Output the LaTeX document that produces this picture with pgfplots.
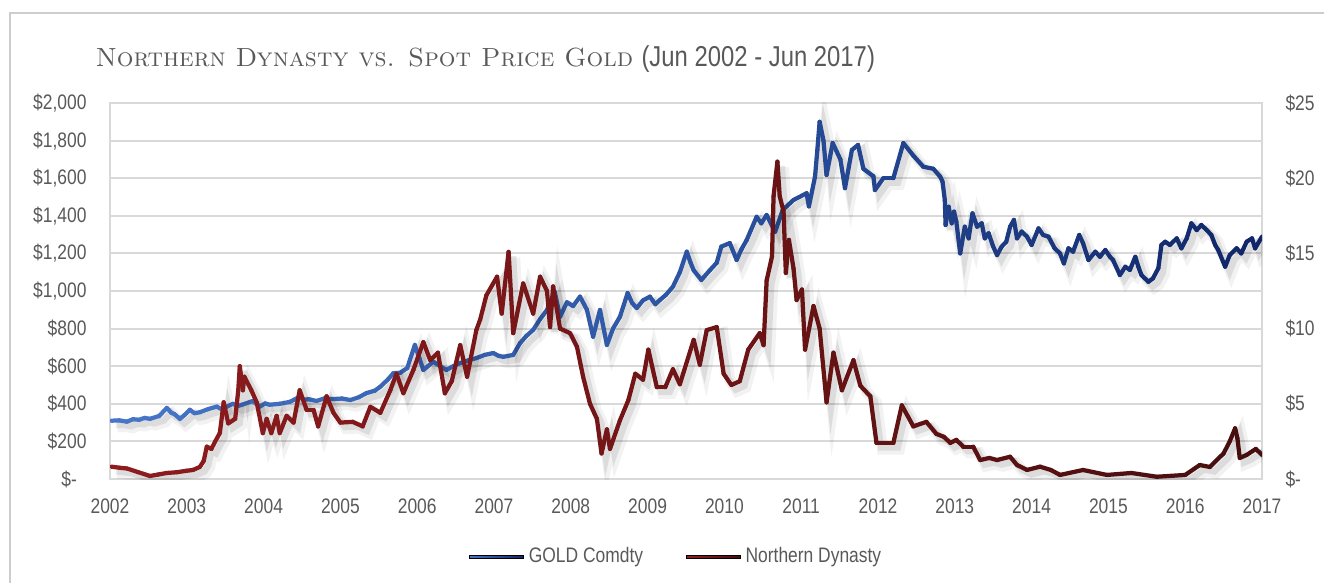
\documentclass[border=0pt]{standalone}
\usepackage{fontspec}
\usepackage{pgfplots}
\pgfplotsset{compat=1.18}
\usepackage{pgfplotstable}
\newfontfamily\narrow[FakeStretch=0.83]{Liberation Sans}
\definecolor{txt}{RGB}{89,89,89}
\definecolor{gridc}{RGB}{217,217,217}
\definecolor{framec}{RGB}{205,205,205}
\definecolor{goldA}{RGB}{72,118,200}
\definecolor{goldB}{RGB}{16,38,104}
\definecolor{ndA}{RGB}{150,30,32}
\definecolor{ndB}{RGB}{70,14,14}
\pgfplotsset{
  colormap={goldmap}{rgb255=(72,118,200) rgb255=(44,84,162) rgb255=(16,38,104)},
  colormap={ndmap}{rgb255=(142,28,30) rgb255=(112,20,22) rgb255=(70,14,14)},
}

% gold spot price, USD/oz (left axis)
\pgfplotstableread{
year price
2002.02 310
2002.12 312
2002.22 305
2002.30 318
2002.38 315
2002.45 325
2002.52 320
2002.64 335
2002.74 378
2002.80 352
2002.84 345
2002.91 320
2002.97 340
2003.04 368
2003.10 350
2003.17 355
2003.28 372
2003.39 385
2003.45 372
2003.50 380
2003.60 400
2003.66 388
2003.72 395
2003.86 415
2003.95 385
2004.02 402
2004.08 395
2004.21 400
2004.34 410
2004.40 422
2004.47 438
2004.53 420
2004.58 425
2004.69 415
2004.80 430
2004.90 425
2005.02 428
2005.13 420
2005.24 435
2005.34 457
2005.45 470
2005.52 491
2005.62 530
2005.69 563
2005.78 565
2005.87 590
2005.97 713
2006.03 640
2006.08 580
2006.14 600
2006.21 624
2006.30 600
2006.38 580
2006.47 600
2006.56 617
2006.66 630
2006.77 643
2006.88 660
2006.99 670
2007.06 655
2007.12 650
2007.25 660
2007.34 723
2007.42 760
2007.51 793
2007.60 850
2007.69 899
2007.79 996
2007.86 863
2007.95 940
2008.03 920
2008.12 970
2008.21 900
2008.29 757
2008.38 899
2008.47 713
2008.55 800
2008.64 863
2008.74 989
2008.80 935
2008.86 910
2008.94 950
2009.03 970
2009.10 930
2009.16 952
2009.24 980
2009.33 1023
2009.42 1100
2009.51 1209
2009.56 1150
2009.60 1110
2009.70 1059
2009.81 1110
2009.90 1150
2009.96 1236
2010.07 1255
2010.16 1165
2010.22 1220
2010.29 1271
2010.42 1395
2010.48 1360
2010.55 1404
2010.66 1315
2010.76 1431
2010.90 1484
2011.07 1520
2011.10 1450
2011.18 1608
2011.21 1750
2011.24 1900
2011.29 1800
2011.33 1617
2011.41 1787
2011.51 1700
2011.57 1547
2011.66 1750
2011.74 1777
2011.81 1650
2011.94 1610
2011.96 1537
2012.07 1600
2012.20 1600
2012.33 1787
2012.46 1720
2012.59 1661
2012.72 1650
2012.81 1608
2012.84 1582
2012.87 1484
2012.88 1351
2012.92 1448
2012.96 1360
2012.99 1422
2013.02 1369
2013.07 1200
2013.13 1342
2013.18 1280
2013.23 1413
2013.29 1342
2013.35 1360
2013.39 1280
2013.44 1307
2013.50 1236
2013.55 1191
2013.61 1236
2013.67 1262
2013.72 1342
2013.77 1378
2013.81 1280
2013.87 1316
2013.94 1289
2014.00 1245
2014.09 1333
2014.15 1298
2014.22 1289
2014.30 1227
2014.37 1200
2014.42 1147
2014.48 1227
2014.54 1209
2014.62 1298
2014.67 1254
2014.74 1165
2014.83 1209
2014.89 1182
2014.96 1218
2015.02 1182
2015.06 1165
2015.15 1085
2015.22 1129
2015.28 1112
2015.35 1182
2015.39 1129
2015.43 1085
2015.52 1049
2015.58 1067
2015.65 1121
2015.69 1245
2015.74 1262
2015.80 1245
2015.89 1280
2015.95 1227
2016.02 1280
2016.08 1360
2016.15 1324
2016.21 1351
2016.28 1324
2016.34 1298
2016.39 1245
2016.43 1218
2016.52 1129
2016.58 1191
2016.67 1227
2016.73 1200
2016.80 1262
2016.87 1280
2016.91 1227
2017.00 1289
}\gold

% Northern Dynasty share price, USD (right axis)
\pgfplotstableread{
year nd
2002.02 0.82
2002.12 0.75
2002.22 0.70
2002.37 0.45
2002.52 0.20
2002.63 0.30
2002.74 0.40
2002.87 0.45
2003.00 0.55
2003.08 0.60
2003.17 0.80
2003.22 1.2
2003.26 2.15
2003.32 2.0
2003.37 2.5
2003.43 3.05
2003.48 5.1
2003.54 3.7
2003.63 4.0
2003.67 5.9
2003.69 7.5
2003.73 5.9
2003.75 6.8
2003.84 5.9
2003.91 5.1
2003.99 3.05
2004.04 4.0
2004.10 3.05
2004.17 4.2
2004.21 3.05
2004.30 4.2
2004.39 3.75
2004.47 5.9
2004.56 4.6
2004.65 4.6
2004.71 3.5
2004.82 5.5
2004.91 4.4
2005.00 3.75
2005.16 3.8
2005.29 3.5
2005.39 4.8
2005.52 4.4
2005.65 5.9
2005.73 7.0
2005.82 5.7
2005.95 7.25
2006.08 9.1
2006.17 7.9
2006.27 8.4
2006.36 5.7
2006.45 6.5
2006.56 8.9
2006.65 6.8
2006.77 9.9
2006.82 10.6
2006.90 12.2
2007.04 13.45
2007.10 11.0
2007.19 15.1
2007.25 9.7
2007.38 13.0
2007.51 11.0
2007.60 13.45
2007.69 12.5
2007.73 10.1
2007.77 12.8
2007.86 10.0
2007.99 9.7
2008.08 8.8
2008.16 6.8
2008.25 5.0
2008.34 4.0
2008.40 1.7
2008.47 3.3
2008.51 2.0
2008.64 3.9
2008.75 5.25
2008.84 7.0
2008.94 6.6
2009.01 8.6
2009.12 6.1
2009.23 6.1
2009.33 7.3
2009.42 6.3
2009.60 9.25
2009.68 7.6
2009.77 9.9
2009.90 10.1
2009.99 7.0
2010.09 6.25
2010.20 6.5
2010.31 8.6
2010.46 9.7
2010.51 8.9
2010.55 13.2
2010.62 14.8
2010.64 18.8
2010.69 21.1
2010.72 18.8
2010.77 17.8
2010.80 13.7
2010.84 15.9
2010.90 14.0
2010.94 11.9
2011.01 12.6
2011.05 8.6
2011.16 11.5
2011.24 10.0
2011.33 5.1
2011.42 8.4
2011.53 5.9
2011.68 7.9
2011.77 6.2
2011.90 5.5
2011.98 2.4
2012.20 2.4
2012.31 4.9
2012.46 3.5
2012.63 3.8
2012.76 3.0
2012.86 2.8
2012.94 2.4
2013.02 2.6
2013.11 2.15
2013.24 2.15
2013.33 1.26
2013.45 1.4
2013.55 1.26
2013.72 1.48
2013.81 0.93
2013.94 0.6
2014.11 0.82
2014.25 0.6
2014.37 0.27
2014.67 0.6
2014.98 0.27
2015.30 0.4
2015.63 0.15
2016.00 0.27
2016.19 0.93
2016.32 0.8
2016.50 1.7
2016.58 2.5
2016.65 3.37
2016.68 2.7
2016.71 1.4
2016.80 1.6
2016.92 2.0
2017.00 1.6
}\nd

\begin{document}
\begin{tikzpicture}
\useasboundingbox (0,0) rectangle (529.6pt,232.8pt);
% outer chart frame
\draw[framec, line width=0.8pt] (4pt,-5pt) -- (4pt,227.6pt) -- (540pt,227.6pt);
% title
\node[anchor=base west, inner sep=0pt, text=txt] at (38pt,206pt)
  {{\fontsize{10.5}{12}\selectfont\scshape Northern Dynasty vs. Spot Price Gold}
   {\narrow\fontsize{11.5}{13}\selectfont(Jun 2002 - Jun 2017)}};

\begin{axis}[
  at={(44pt,41.2pt)}, anchor=south west,
  scale only axis, width=460.8pt, height=150.4pt,
  xmin=2002, xmax=2017, ymin=0, ymax=2000,
  xtick={2002,2003,...,2017},
  xticklabels={2002,2003,2004,2005,2006,2007,2008,2009,2010,2011,2012,2013,2014,2015,2016,2017},
  ytick={0,200,...,2000},
  yticklabels={\$-\hphantom{0},\$200,\$400,\$600,\$800,\$1{,}000,\$1{,}200,\$1{,}400,\$1{,}600,\$1{,}800,\$2{,}000},
  ymajorgrids, major grid style={gridc, line width=0.8pt},
  axis line style={gridc, line width=0.8pt},
  tick style={draw=none},
  ticklabel style={font=\narrow\fontsize{8.4}{10}\selectfont, text=txt},
  yticklabel style={anchor=east, inner sep=0pt, xshift=-9.2pt},
  xticklabel style={anchor=north, inner sep=0pt, yshift=-7.6pt},
]
\addplot[black, opacity=0.05, line width=4.5pt, xshift=2.4pt, yshift=-2.4pt, forget plot] table[x=year,y=price]{\gold};
\addplot[black, opacity=0.09, line width=2.6pt, xshift=1.8pt, yshift=-1.8pt, forget plot] table[x=year,y=price]{\gold};
\addplot[mesh, point meta=x, colormap name=goldmap, line width=1.7pt, line cap=round, line join=round, forget plot] table[x=year,y=price]{\gold};
\end{axis}

\begin{axis}[
  at={(44pt,41.2pt)}, anchor=south west,
  scale only axis, width=460.8pt, height=150.4pt,
  xmin=2002, xmax=2017, ymin=0, ymax=25,
  axis x line=none, axis y line*=right,
  y axis line style={draw=none},
  ytick={0,5,...,25},
  yticklabels={\$-,\$5,\$10,\$15,\$20,\$25},
  tick style={draw=none},
  ticklabel style={font=\narrow\fontsize{8.4}{10}\selectfont, text=txt},
  yticklabel style={anchor=west, inner sep=0pt, xshift=9.2pt},
  legend columns=2,
  legend style={at={(0.5,0)}, anchor=center, yshift=-31.2pt, xshift=-3.4pt,
    draw=none, fill=none, font=\narrow\fontsize{8.4}{10}\selectfont, text=txt,
    /tikz/every even column/.append style={column sep=15pt}},
]
\addplot[black, opacity=0.05, line width=4.5pt, xshift=2.4pt, yshift=-2.4pt, forget plot] table[x=year,y=nd]{\nd};
\addplot[black, opacity=0.09, line width=2.6pt, xshift=1.8pt, yshift=-1.8pt, forget plot] table[x=year,y=nd]{\nd};
\addplot[mesh, point meta=x, colormap name=ndmap, line width=1.7pt, line cap=round, line join=round, forget plot] table[x=year,y=nd]{\nd};
\addlegendimage{legend image code/.code={\shade[left color=goldA, right color=goldB] (0pt,-0.7pt) rectangle (21.6pt,0.7pt);}}
\addlegendentry{GOLD Comdty}
\addlegendimage{legend image code/.code={\shade[left color=ndA, right color=ndB] (0pt,-0.7pt) rectangle (21.6pt,0.7pt);}}
\addlegendentry{Northern Dynasty}
\end{axis}
\end{tikzpicture}
\end{document}
